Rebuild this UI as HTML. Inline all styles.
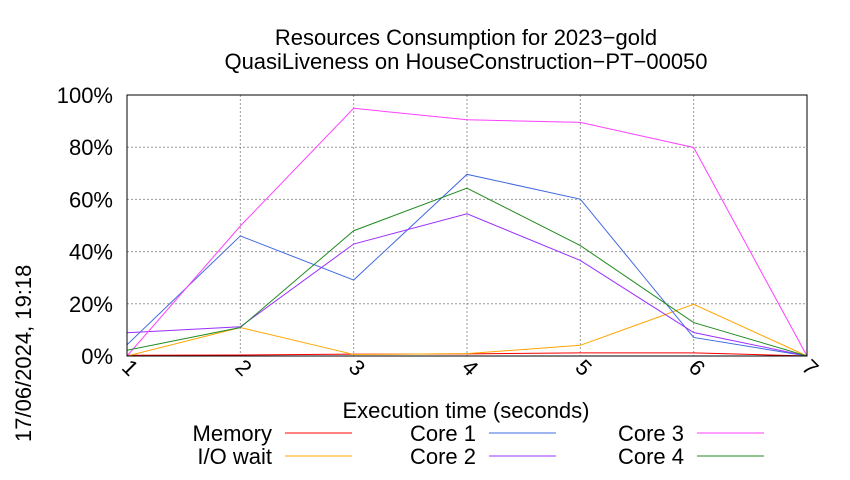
<!DOCTYPE html>
<html><head><meta charset="utf-8"><style>
body{margin:0;background:#fff}
svg{font-family:"Liberation Sans",sans-serif}
</style></head><body>
<svg id="chart" width="850" height="475" xmlns="http://www.w3.org/2000/svg">
<rect width="850" height="475" fill="#fff"/>
<text x="466" y="45" font-size="22" text-anchor="middle">Resources Consumption for 2023−gold</text>
<text x="466" y="69" font-size="22" text-anchor="middle">QuasiLiveness on HouseConstruction−PT−00050</text>
<g id="grid"></g><g id="series"></g><g id="axes"></g>
<text x="466" y="418" font-size="22" text-anchor="middle">Execution time (seconds)</text>
<text transform="translate(31,442) rotate(-90)" font-size="22">17/06/2024, 19:18</text>
<g id="legend"></g>
</svg>
<script>
const xValues=[1,2,3,4,5,6,7];
const yTicks=[0,20,40,60,80,100];
const seriesNames=["Memory","I/O wait","Core 1","Core 2","Core 3","Core 4"];
const seriesColors=["#ff0000","#ffa500","#4169e1","#9b30ff","#ff40ff","#228b22"];
const memory=[0.3,0.4,0.7,0.8,1.2,1.2,0];
const ioWait=[0,10.9,0.6,0.9,4.1,19.8,0];
const core1=[4.3,46,29.1,69.6,60.1,7.1,0];
const core2=[8.9,11.2,42.9,54.5,36.6,9.0,0];
const core3=[0,49.8,94.9,90.5,89.5,79.9,0];
const core4=[2.2,10.9,48,64.3,42.3,12.8,0];
const seriesData=[memory,ioWait,core1,core2,core3,core4];
const NS="http://www.w3.org/2000/svg";
const L=127,R=807,T=95,B=356;
const xs=v=>L+(v-1)*(R-L)/6;
const ys=v=>B-v*(B-T)/100;
function mk(tag,attrs,parent){const e=document.createElementNS(NS,tag);for(const k in attrs)e.setAttribute(k,attrs[k]);parent.appendChild(e);return e;}
const grid=document.getElementById('grid'),axes=document.getElementById('axes'),ser=document.getElementById('series'),leg=document.getElementById('legend');
yTicks.forEach(t=>{
 const g=mk('line',{x1:L,x2:R,y1:ys(t),y2:ys(t),stroke:'#999','stroke-dasharray':'2,2','stroke-width':1},grid);
 
 
 const tx=mk('text',{x:L-14,y:ys(t)+8,'font-size':22,'text-anchor':'end'},axes);
 tx.textContent=t+'%';
 
 
});
xValues.forEach(v=>{
 const g=mk('line',{x1:xs(v),x2:xs(v),y1:T,y2:B,stroke:'#999','stroke-dasharray':'2,2','stroke-width':1},grid);
 
 
 const tx=mk('text',{transform:`translate(${xs(v)-2},${B+17}) rotate(45)`,'font-size':22,'text-anchor':'middle'},axes);
 tx.textContent=v;
 
 
});
const frame=mk('rect',{x:L,y:T,width:R-L,height:B-T,fill:'none',stroke:'#000','stroke-width':1},axes);


seriesData.forEach((d,i)=>{
 const p=mk('polyline',{points:d.map((v,j)=>xs(xValues[j])+','+ys(v)).join(' '),fill:'none',stroke:seriesColors[i],'stroke-width':1},ser);
 
 
});
const legPos=[[272,433],[272,456],[476,433],[476,456],[684,433],[684,456]];
seriesNames.forEach((n,i)=>{
 const [x,y]=legPos[i];
 const t=mk('text',{x:x,y:y+8,'font-size':22,'text-anchor':'end'},leg);
 t.textContent=n;
 
 
 const l=mk('line',{x1:x+13,x2:x+80,y1:y,y2:y,stroke:seriesColors[i],'stroke-width':1},leg);
 
 
});
</script>
</body></html>
